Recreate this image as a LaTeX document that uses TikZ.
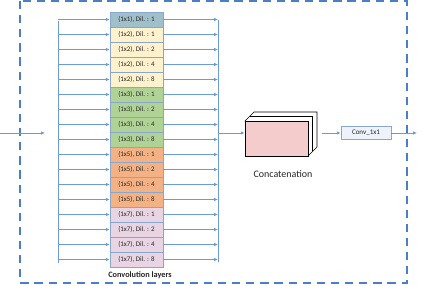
\documentclass[tikz,border=0pt]{standalone}
\usepackage{fontspec}
\setmainfont{Carlito}
\usetikzlibrary{positioning,arrows.meta}
\definecolor{flow}{HTML}{6C9BD6}
\definecolor{frameblue}{HTML}{4A7EC7}
\definecolor{edge}{HTML}{8AA6CC}
\definecolor{kA}{HTML}{9FC0CB}
\definecolor{kB}{HTML}{FFF2CC}
\definecolor{kC}{HTML}{AFD395}
\definecolor{kD}{HTML}{F4B183}
\definecolor{kE}{HTML}{E8D4E2}
\definecolor{cubepink}{HTML}{F4CCCC}
\definecolor{convfill}{HTML}{EEF3FA}

\begin{document}
\begin{tikzpicture}[x=0.85pt, y=-0.85pt, every node/.style={align=center},
    link/.style={-{Latex[length=3.2pt,width=2.8pt]}, flow, line width=0.6pt},
    bus/.style={flow, line width=0.7pt},
    layer/.style={draw=edge, line width=0.5pt, minimum width=45pt, minimum height=12.75pt,
        inner sep=0pt, text=black!85, font=\fontsize{5.9}{7}\selectfont},
    convbox/.style={draw=edge, fill=convfill, line width=0.5pt, minimum width=42.5pt,
        minimum height=11pt, inner sep=0pt, text=black!85, font=\fontsize{6}{7}\selectfont},
    frame/.style={frameblue, line width=1.6pt, dash pattern=on 7pt off 5pt}]
    \useasboundingbox (0,0) rectangle (423,286);

    % outer dashed block
    \draw[frame] (20,1) rectangle (407,283);

    % convolution layers
    \foreach \k/\d/\c [count=\i from 0] in {1/1/kA, 2/1/kB, 2/2/kB, 2/4/kB, 2/8/kB,
        3/1/kC, 3/2/kC, 3/4/kC, 3/8/kC, 5/1/kD, 5/2/kD, 5/4/kD, 5/8/kD,
        7/1/kE, 7/2/kE, 7/4/kE, 7/8/kE}
        \node[layer, fill=\c] (L\i) at (136.5, 19.5+15*\i) {(1x\k), Dil. : \d};
    \node[font=\fontsize{7}{8}\selectfont\bfseries, text=black!85] (convlbl) at (140,275.5) {Convolution layers};

    % input and split bus
    \coordinate (src) at (0,133);
    \coordinate (srcEnd) at (45,133);
    \coordinate (inTop) at (58,21);
    \coordinate (inBot) at (58,263);
    \draw[link] (src) -- (srcEnd);
    \draw[bus] (inTop) -- (inBot);
    \foreach \i in {0,...,16}
        \draw[link] (inTop |- L\i.west) -- (L\i.west);

    % merge bus
    \coordinate (outTop) at (218,20);
    \coordinate (outBot) at (218,262);
    \draw[bus] (outTop) -- (outBot);
    \foreach \i in {0,...,16}
        \draw[link] (L\i.east) -- (outTop |- L\i.east);

    % concatenation block
    \filldraw[fill=white, draw=black, line width=0.6pt]
        (245,121) -- (254,112) -- (317,112) -- (317,147) -- (308,156) -- cycle;
    \draw[black, line width=0.6pt] (249.5,116.5) -- (312.5,116.5) -- (312.5,151.5);
    \node[draw=black, fill=cubepink, line width=0.6pt, minimum width=53.5pt,
        minimum height=29.75pt, inner sep=0pt] (concat) at (276.5,138.5) {};
    \node[font=\fontsize{8.5}{10}\selectfont, text=black!85] (concatlbl) at (283,174) {Concatenation};

    \coordinate (merge) at (218,133);
    \draw[link] (merge) -- (concat.west |- merge);

    % 1x1 convolution and output
    \node[convbox] (conv) at (366,133) {Conv\_1x1};
    \coordinate (cubeOut) at (322,133);
    \coordinate (out) at (417,133);
    \draw[link] (cubeOut) -- (conv.west);
    \draw[link] (conv.east) -- (out);
\end{tikzpicture}
\end{document}
